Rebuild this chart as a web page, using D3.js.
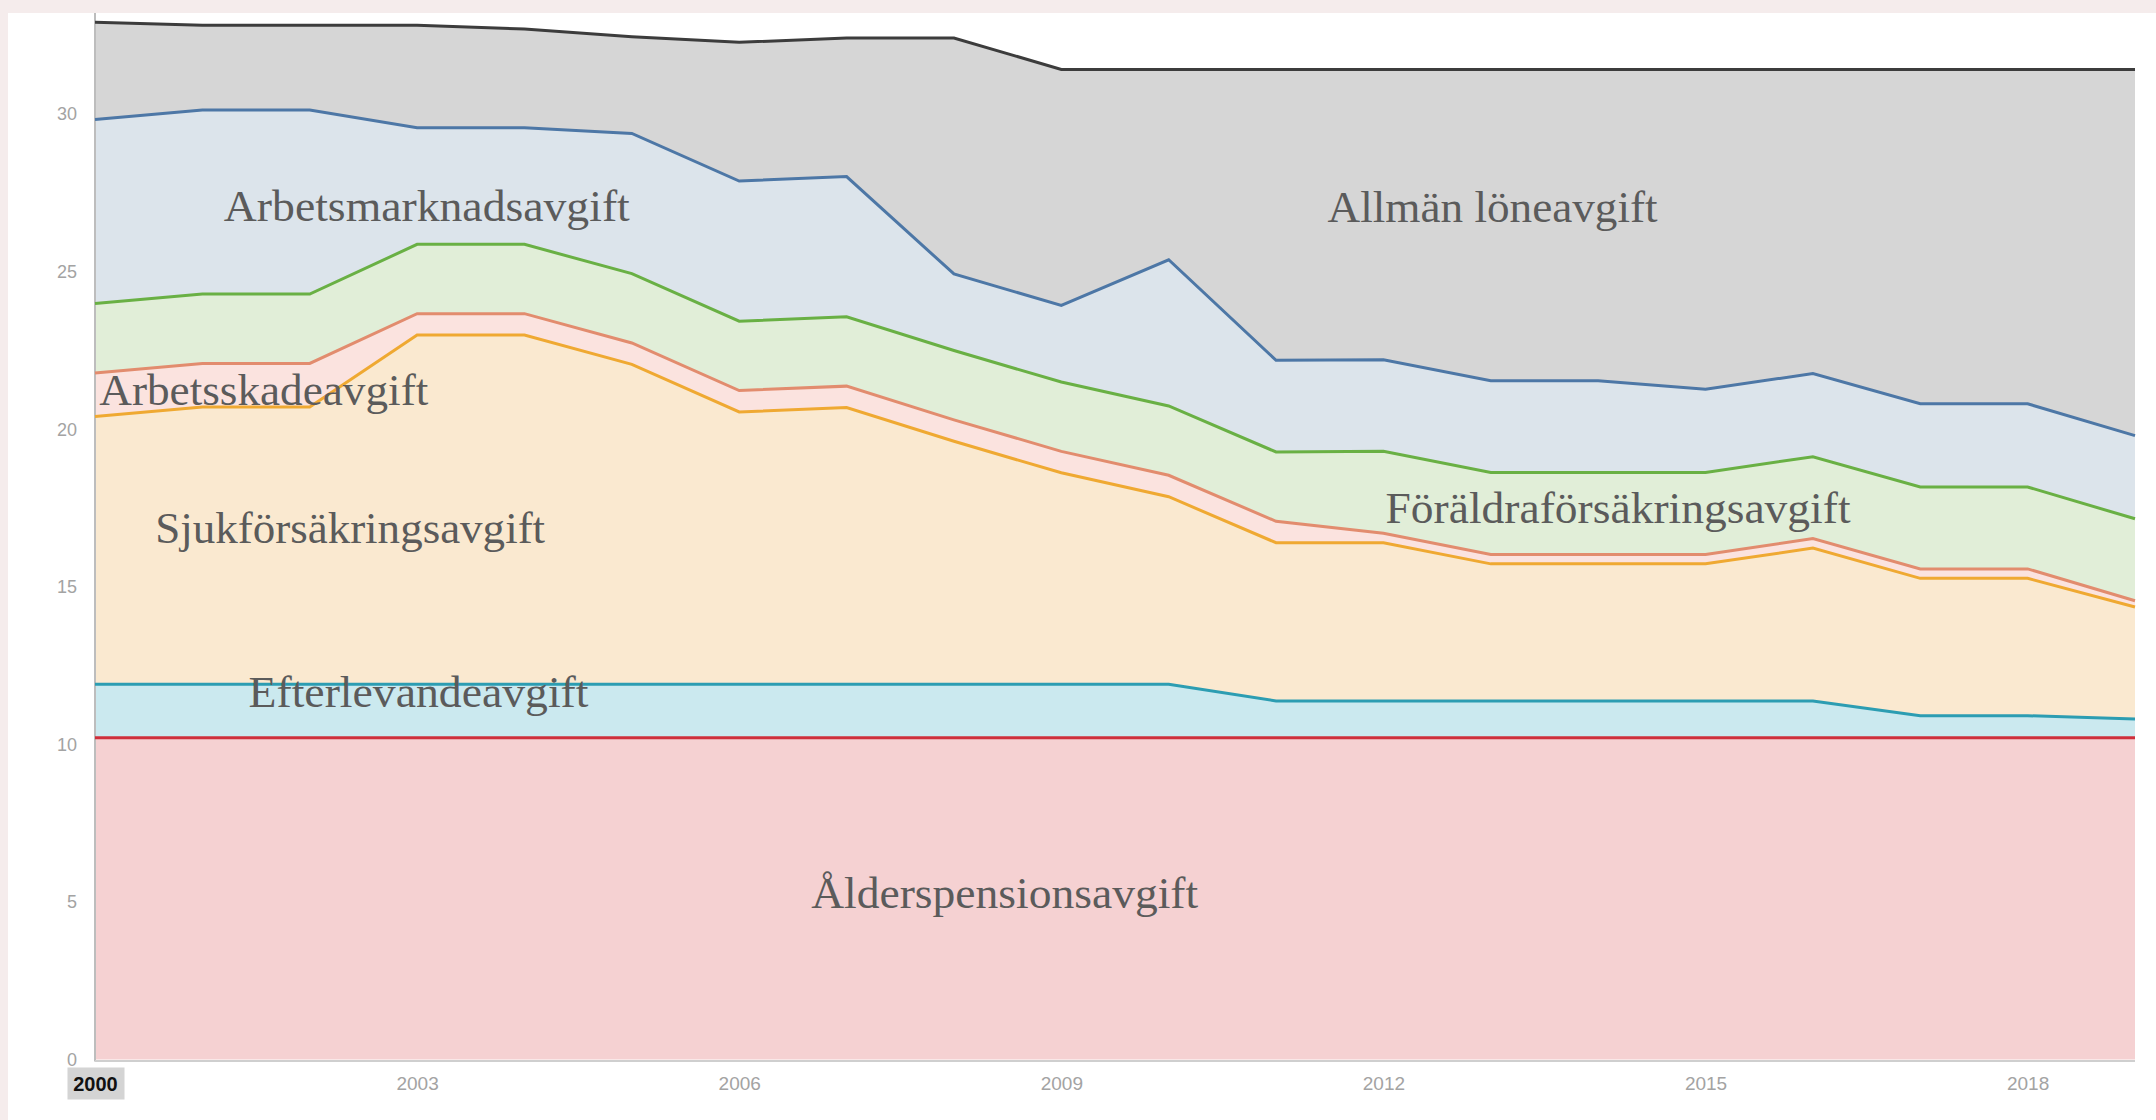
<!DOCTYPE html>
<html>
<head>
<meta charset="utf-8">
<script src="https://cdn.jsdelivr.net/npm/d3@7"></script>
<style>
  body { margin: 0; background: #f5ecec; }
  svg { display: block; }
  .tick text { font-family: "Liberation Sans", Arial, sans-serif; fill: #a3a3a3; }
  .serie-label { font-family: "Liberation Serif", "DejaVu Serif", serif; fill: #5b5b5b; }
</style>
</head>
<body>
<svg id="canvas"></svg>
<script>
// år och avgifter (procent av lönesumman)
const years = [2000, 2001, 2002, 2003, 2004, 2005, 2006, 2007, 2008, 2009,
  2010, 2011, 2012, 2013, 2014, 2015, 2016, 2017, 2018, 2019];

const alderspension = [10.21, 10.21, 10.21, 10.21, 10.21, 10.21, 10.21, 10.21, 10.21, 10.21,
  10.21, 10.21, 10.21, 10.21, 10.21, 10.21, 10.21, 10.21, 10.21, 10.21];
const efterlevande = [1.70, 1.70, 1.70, 1.70, 1.70, 1.70, 1.70, 1.70, 1.70, 1.70,
  1.70, 1.17, 1.17, 1.17, 1.17, 1.17, 1.17, 0.70, 0.70, 0.60];
const sjukforsakring = [8.50, 8.80, 8.80, 11.08, 11.08, 10.15, 8.64, 8.78, 7.71, 6.71,
  5.95, 5.02, 5.02, 4.35, 4.35, 4.35, 4.85, 4.36, 4.36, 3.55];
const arbetsskada = [1.38, 1.38, 1.38, 0.68, 0.68, 0.68, 0.68, 0.68, 0.68, 0.68,
  0.68, 0.68, 0.30, 0.30, 0.30, 0.30, 0.30, 0.30, 0.30, 0.20];
const foraldra = [2.20, 2.20, 2.20, 2.20, 2.20, 2.20, 2.20, 2.20, 2.20, 2.20,
  2.20, 2.20, 2.60, 2.60, 2.60, 2.60, 2.60, 2.60, 2.60, 2.60];
const arbetsmarknad = [5.84, 5.84, 5.84, 3.70, 3.70, 4.45, 4.45, 4.45, 2.43, 2.43,
  4.64, 2.91, 2.91, 2.91, 2.91, 2.64, 2.64, 2.64, 2.64, 2.64];
const allmanLoneavgift = [3.09, 2.69, 2.69, 3.25, 3.13, 3.07, 4.40, 4.40, 7.49, 7.49,
  6.04, 9.23, 9.21, 9.88, 9.88, 10.15, 9.65, 10.61, 10.61, 11.62];

const seriesNames = ["Ålderspensionsavgift", "Efterlevandeavgift", "Sjukförsäkringsavgift",
  "Arbetsskadeavgift", "Föräldraförsäkringsavgift", "Arbetsmarknadsavgift", "Allmän löneavgift"];
const seriesValues = [alderspension, efterlevande, sjukforsakring, arbetsskada,
  foraldra, arbetsmarknad, allmanLoneavgift];

const yTicks = [0, 5, 10, 15, 20, 25, 30];
const xTicks = [2000, 2003, 2006, 2009, 2012, 2015, 2018];

// färger: fyllning / linje
const fills = ["#f5d1d2", "#cbe9ef", "#fae9d0", "#fbe3df", "#e1eed8", "#dce4eb", "#d6d6d6"];
const strokes = ["#cf2f3b", "#2c9db2", "#efa932", "#e28c6e", "#69b044", "#4d77a6", "#3c3c3c"];

// etiketter: ankare i år/värde, bredd i px
const labels = [
  { name: "Arbetsmarknadsavgift", year: 2001.2, value: 26.6, width: 406 },
  { name: "Allmän löneavgift", year: 2011.48, value: 26.58, width: 330 },
  { name: "Arbetsskadeavgift", year: 2000.04, value: 20.76, width: 329 },
  { name: "Sjukförsäkringsavgift", year: 2000.56, value: 16.39, width: 390 },
  { name: "Efterlevandeavgift", year: 2001.43, value: 11.18, width: 340 },
  { name: "Föräldraförsäkringsavgift", year: 2012.02, value: 17.02, width: 465 },
  { name: "Ålderspensionsavgift", year: 2006.67, value: 4.8, width: 387 }
];

const width = 2156, height = 1120;
const svg = d3.select("#canvas").attr("width", width).attr("height", height);

svg.append("rect").attr("x", 8).attr("y", 13)
  .attr("width", width - 8).attr("height", height - 13).attr("fill", "#fff");

const xScale = d3.scaleLinear().domain([2000, 2019]).range([95, 2135]);
const yScale = d3.scaleLinear().domain([0, 30]).range([1059.5, 114.2]);

const table = years.map((yr, i) => {
  const row = { year: yr };
  seriesNames.forEach((n, k) => { row[n] = seriesValues[k][i]; });
  return row;
});

const stacked = d3.stack().keys(seriesNames)(table);

const area = d3.area()
  .x((d) => xScale(d.data.year))
  .y0((d) => yScale(d[0]))
  .y1((d) => yScale(d[1]));

const line = d3.line()
  .x((d) => xScale(d.data.year))
  .y((d) => yScale(d[1]));

svg.append("g")
  .selectAll("path")
  .data(stacked)
  .enter()
  .append("path")
  .attr("d", area)
  .attr("fill", (d, i) => fills[i]);

// axellinjer
svg.append("line")
  .attr("x1", xScale(2000)).attr("x2", xScale(2000))
  .attr("y1", 13).attr("y2", yScale(0) + 2)
  .attr("stroke", "#bdbdbd").attr("stroke-width", 2);
svg.append("line")
  .attr("x1", xScale(2000)).attr("x2", xScale(2019))
  .attr("y1", yScale(0) + 1.5).attr("y2", yScale(0) + 1.5)
  .attr("stroke", "#cfcfcf").attr("stroke-width", 2);

svg.append("g")
  .selectAll("path")
  .data(stacked)
  .enter()
  .append("path")
  .attr("d", line)
  .attr("fill", "none")
  .attr("stroke", (d, i) => strokes[i])
  .attr("stroke-width", 3);

const yAxis = d3.axisLeft(yScale).tickValues(yTicks).tickSize(0).tickPadding(18);
const gy = svg.append("g")
  .attr("transform", `translate(${xScale(2000)},0)`)
  .call(yAxis);
gy.select(".domain").remove();
gy.selectAll("text").style("font-size", "18px");

const xAxis = d3.axisBottom(xScale).tickValues(xTicks).tickFormat(d3.format("d")).tickSize(0).tickPadding(17);
const gx = svg.append("g")
  .attr("transform", `translate(0,${yScale(0)})`)
  .call(xAxis);
gx.select(".domain").remove();
gx.selectAll("text").style("font-size", "19px");

// markerat första år
const first = gx.selectAll(".tick").filter((d) => d === 2000);
first.insert("rect", "text")
  .attr("x", -28).attr("y", 8)
  .attr("width", 57).attr("height", 32)
  .attr("fill", "#d4d4d4");
first.select("text")
  .style("fill", "#111")
  .style("font-size", "20px")
  .style("font-weight", "bold");

svg.append("g")
  .selectAll("text")
  .data(labels)
  .enter()
  .append("text")
  .attr("class", "serie-label")
  .attr("x", (d) => xScale(d.year))
  .attr("y", (d) => yScale(d.value))
  .attr("textLength", (d) => d.width)
  .attr("lengthAdjust", "spacingAndGlyphs")
  .style("font-size", "45px")
  .text((d) => d.name);
</script>
</body>
</html>
